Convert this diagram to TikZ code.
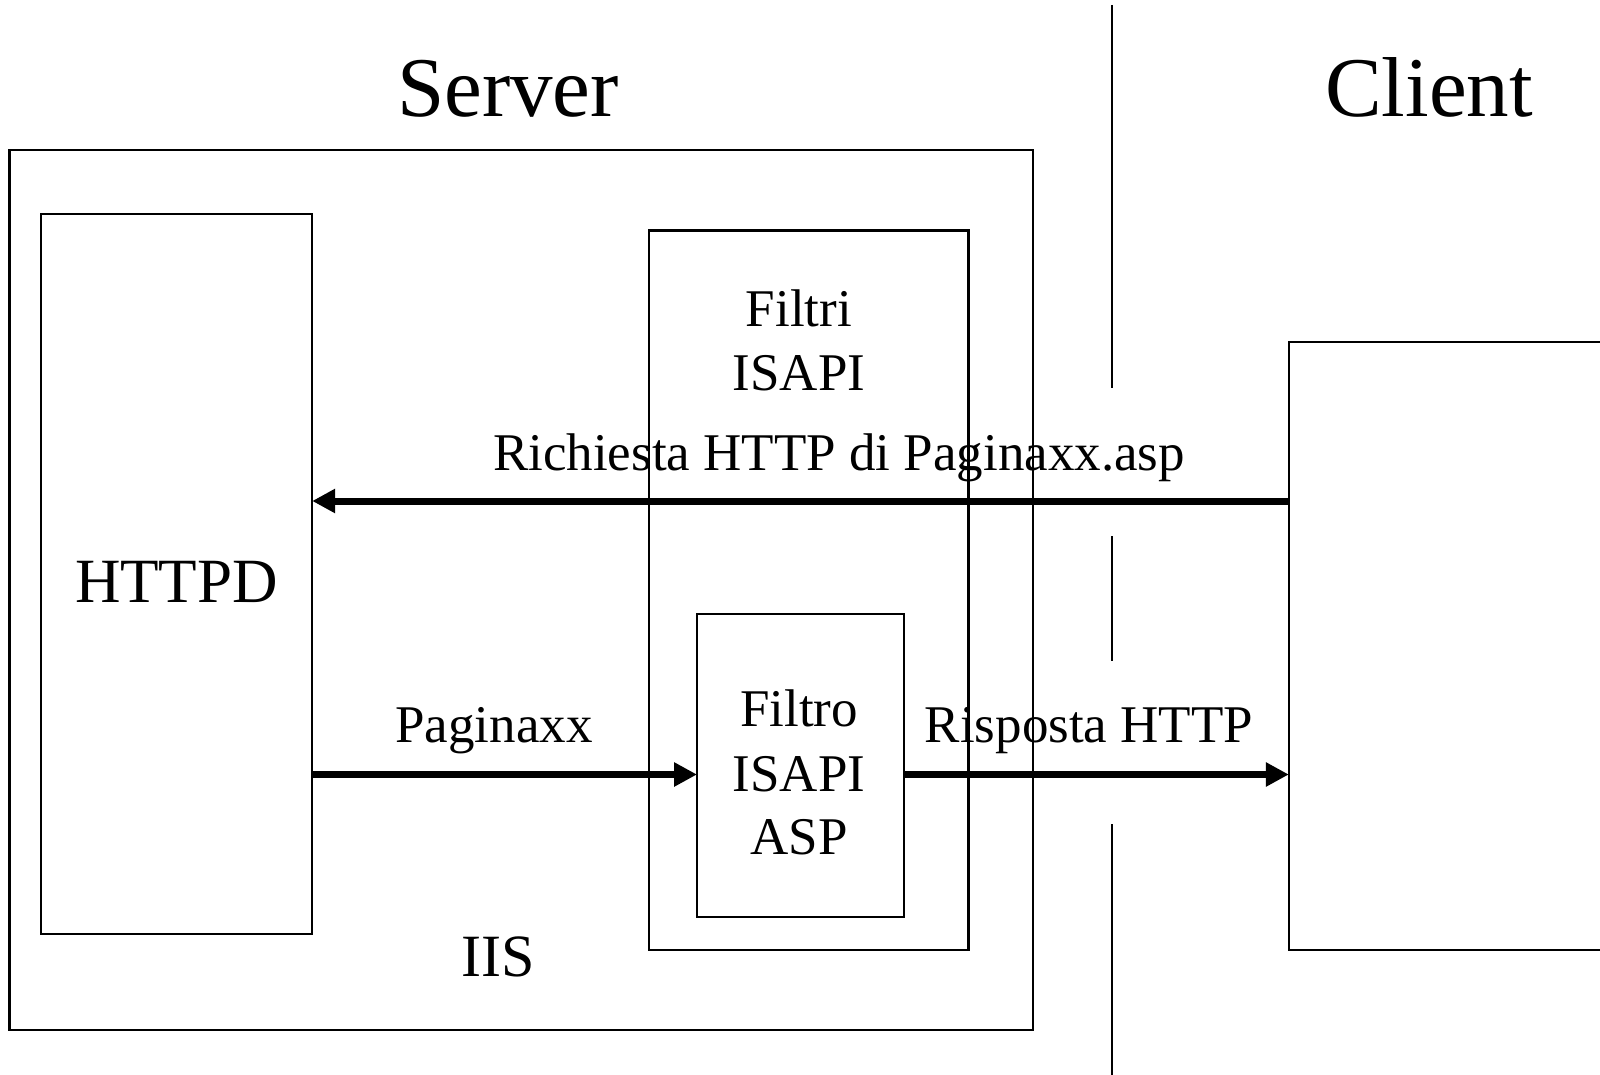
\documentclass[tikz,border=0pt]{standalone}
\usepackage{fontspec}
\setmainfont{Liberation Serif}
\usetikzlibrary{arrows.meta}
\begin{document}
\begin{tikzpicture}[x=1pt,y=-1pt,
 box/.style={draw, line width=2.4pt, inner sep=0pt, outer sep=0pt},
 lbl/.style={inner sep=0pt, anchor=base, font=\fontsize{53}{64}\selectfont},
 mid/.style={inner sep=0pt, anchor=base, font=\fontsize{63}{72}\selectfont},
 big/.style={inner sep=0pt, anchor=base, font=\fontsize{85}{100}\selectfont},
 arr/.style={line width=7pt, -{Triangle[length=23pt,width=23pt]}},
 sepline/.style={line width=2.2pt}]
\clip (0,0) rectangle (1600,1075);
\fill[white] (0,0) rectangle (1600,1075);

% boxes
\node[box, minimum width=1023.4pt, minimum height=879.6pt] (server) at (521,590) {};
\node[box, minimum width=271.4pt, minimum height=719.4pt] (httpd) at (176.5,574) {};
\node[box, minimum width=319.4pt, minimum height=719.4pt] (filtri) at (808.7,590.3) {};
\node[box, fill=white, minimum width=207pt, minimum height=303pt] (asp) at (800.5,765.5) {};
\node[box, minimum width=351.2pt, minimum height=608.2pt] (client) at (1464.4,645.9) {};

% separator line
\coordinate (s1a) at (1112,5);   \coordinate (s1b) at (1112,388);
\coordinate (s2a) at (1112,536); \coordinate (s2b) at (1112,661);
\coordinate (s3a) at (1112,824); \coordinate (s3b) at (1112,1080);
\draw[sepline] (s1a) -- (s1b);
\draw[sepline] (s2a) -- (s2b);
\draw[sepline] (s3a) -- (s3b);

% titles
\node[big] (tserver) at (508,117) {Server};
\node[big] (tclient) at (1429,117) {Client};

% box labels
\node[mid] (thttpd) at (176.5,602) {HTTPD};
\node[lbl] (tfiltri1) at (799,326.5) {Filtri};
\node[lbl] (tfiltri2) at (799,390) {ISAPI};
\node[lbl] (tasp1) at (799,726.5) {Filtro};
\node[lbl] (tasp2) at (799,791) {ISAPI};
\node[lbl] (tasp3) at (799,854) {ASP};
\node[lbl, font=\fontsize{60}{70}\selectfont] (tiis) at (498,976.5) {IIS};

% arrows
\draw[arr] (client.west |- 0,501) -- (httpd.east |- 0,501);
\draw[arr] (httpd.east |- 0,774.5) -- (asp.west |- 0,774.5);
\draw[arr] (asp.east |- 0,774.5) -- (client.west |- 0,774.5);

% arrow labels
\node[lbl] (trich) at (839,470) {Richiesta HTTP di Paginaxx.asp};
\node[lbl] (tpag) at (494,742) {Paginaxx};
\node[lbl] (trisp) at (1089,742) {Risposta HTTP};
\end{tikzpicture}
\end{document}
